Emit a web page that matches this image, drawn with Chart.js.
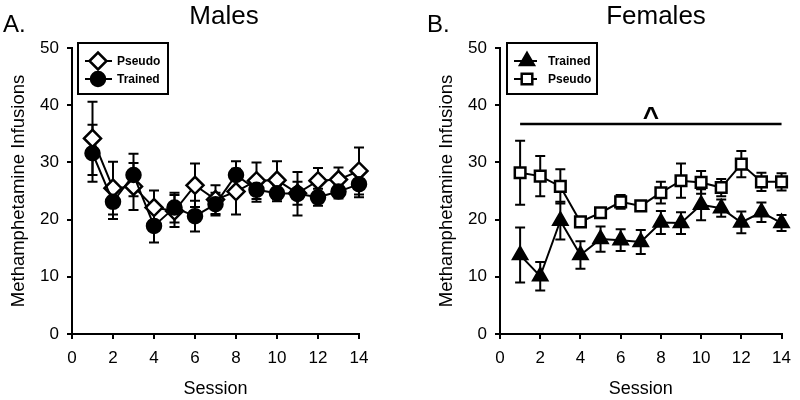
<!DOCTYPE html>
<html>
<head>
<meta charset="utf-8">
<script src="https://cdn.jsdelivr.net/npm/chart.js@4.4.1/dist/chart.umd.min.js"></script>
<style>
  html, body { margin: 0; padding: 0; background: #fff; }
  #wrap { position: relative; width: 800px; height: 400px; }
  .panel { position: absolute; top: 0; width: 400px; height: 400px; }
</style>
</head>
<body>
<div id="wrap">
  <div class="panel" style="left:0"><canvas id="malesChart"></canvas></div>
  <div class="panel" style="left:400px"><canvas id="femalesChart"></canvas></div>
</div>
<script>
// session numbers on the x axis
const sessions = [1, 2, 3, 4, 5, 6, 7, 8, 9, 10, 11, 12, 13, 14];
const xTicks = [0, 2, 4, 6, 8, 10, 12, 14];
const yTicks = [0, 10, 20, 30, 40, 50];

// males (panel A), mean +/- SEM
const maleTrained = [31.6, 23.1, 27.8, 18.9, 22.1, 20.6, 22.7, 27.8, 25.2, 24.6, 24.5, 23.9, 24.9, 26.2];
const maleTrainedSem = [5.0, 3.0, 3.7, 2.9, 2.6, 2.7, 2.0, 2.4, 2.1, 1.4, 3.8, 1.5, 1.2, 2.3];
const malePseudo = [34.2, 25.5, 25.8, 22.1, 21.5, 26.0, 23.5, 24.9, 26.8, 26.9, 24.6, 26.8, 27.0, 28.5];
const malePseudoSem = [6.4, 4.6, 4.1, 3.0, 2.8, 3.8, 2.5, 4.0, 3.2, 3.3, 2.0, 2.2, 2.1, 4.1];

// females (panel B), mean +/- SEM
const femaleTrained = [13.8, 10.1, 19.8, 13.8, 16.6, 16.4, 16.1, 19.5, 19.4, 22.6, 22.0, 19.5, 21.3, 19.4];
const femaleTrainedSem = [4.8, 2.5, 3.3, 2.4, 2.2, 1.9, 2.1, 2.0, 1.9, 2.7, 1.5, 1.9, 1.7, 1.4];
const femalePseudo = [28.2, 27.6, 25.8, 19.6, 21.2, 23.1, 22.4, 24.7, 26.8, 26.5, 25.6, 29.7, 26.6, 26.6];
const femalePseudoSem = [5.6, 3.5, 3.0, 0.8, 0.5, 1.2, 0.5, 1.9, 3.0, 2.0, 1.5, 2.3, 1.6, 1.5];

// significance bar over panel B
const sigRange = [1, 14];
const sigLevel = 36.7;

const FONT = 'Arial, "Liberation Sans", sans-serif';
Chart.defaults.font.family = FONT;
Chart.defaults.color = "#000";

function toPoints(ys) {
  return sessions.map((x, i) => ({ x: x, y: ys[i] }));
}

const errorBars = {
  id: "errorBars",
  beforeDatasetsDraw(chart) {
    const ctx = chart.ctx;
    const xs = chart.scales.x;
    const ys = chart.scales.y;
    ctx.save();
    ctx.strokeStyle = "#000";
    ctx.lineWidth = 2;
    chart.data.datasets.forEach((ds) => {
      ds.data.forEach((p, i) => {
        const err = ds.sem[i];
        const px = xs.getPixelForValue(p.x);
        const top = ys.getPixelForValue(p.y + err);
        const bot = ys.getPixelForValue(p.y - err);
        ctx.beginPath();
        ctx.moveTo(px, top);
        ctx.lineTo(px, bot);
        ctx.moveTo(px - 5, top);
        ctx.lineTo(px + 5, top);
        ctx.moveTo(px - 5, bot);
        ctx.lineTo(px + 5, bot);
        ctx.stroke();
      });
    });
    ctx.restore();
  },
};

const panelText = {
  id: "panelText",
  afterDraw(chart, args, opts) {
    const ctx = chart.ctx;
    ctx.save();
    ctx.fillStyle = "#000";
    ctx.textBaseline = "alphabetic";
    ctx.font = "24px " + FONT;
    ctx.textAlign = "left";
    ctx.fillText(opts.letter, opts.letterX, 32);
    ctx.font = "26px " + FONT;
    ctx.textAlign = "center";
    ctx.fillText(opts.title, opts.titleX, 24);
    ctx.restore();
  },
};

const boxLegend = {
  id: "boxLegend",
  afterDraw(chart, args, opts) {
    const ctx = chart.ctx;
    const [x1, y1, x2, y2] = opts.box;
    ctx.save();
    ctx.strokeStyle = "#000";
    ctx.lineWidth = 2;
    ctx.strokeRect(x1, y1, x2 - x1, y2 - y1);
    opts.entries.forEach((entry, i) => {
      const ds = chart.data.datasets[entry];
      const y = opts.rowY[i];
      ctx.strokeStyle = "#000";
      ctx.lineWidth = 2;
      ctx.beginPath();
      ctx.moveTo(opts.lineX[0], y);
      ctx.lineTo(opts.lineX[1], y);
      ctx.stroke();
      ctx.fillStyle = ds.pointBackgroundColor;
      ctx.lineWidth = ds.pointBorderWidth;
      Chart.helpers.drawPoint(ctx, {
        pointStyle: ds.pointStyle,
        radius: ds.pointRadius,
        borderWidth: ds.pointBorderWidth,
        rotation: 0,
      }, opts.markerX, y);
      ctx.fillStyle = "#000";
      ctx.font = "bold 12px " + FONT;
      ctx.textAlign = "left";
      ctx.textBaseline = "middle";
      ctx.fillText(ds.label, opts.textX, y + 0.5);
    });
    ctx.restore();
  },
};

const sigBar = {
  id: "sigBar",
  afterDatasetsDraw(chart, args, opts) {
    if (!opts.show) return;
    const ctx = chart.ctx;
    const xs = chart.scales.x;
    const ys = chart.scales.y;
    const y = ys.getPixelForValue(sigLevel);
    ctx.save();
    ctx.strokeStyle = "#000";
    ctx.lineWidth = 2.5;
    ctx.beginPath();
    ctx.moveTo(xs.getPixelForValue(sigRange[0]), y);
    ctx.lineTo(xs.getPixelForValue(sigRange[1]), y);
    ctx.stroke();
    ctx.fillStyle = "#000";
    ctx.font = "bold 28px " + FONT;
    ctx.textAlign = "center";
    ctx.textBaseline = "alphabetic";
    ctx.fillText("^", xs.getPixelForValue((sigRange[0] + sigRange[1]) / 2), y + 2);
    ctx.restore();
  },
};

function makeDataset(label, values, sem, style, radius, fill) {
  return {
    label: label,
    data: toPoints(values),
    sem: sem,
    clip: false,
    borderColor: "#000",
    borderWidth: 2,
    pointStyle: style,
    pointRadius: radius,
    pointBorderWidth: 2.5,
    pointBorderColor: "#000",
    pointBackgroundColor: fill,
    tension: 0,
  };
}

function makeOptions(extra) {
  return {
    responsive: true,
    maintainAspectRatio: false,
    animation: false,
    events: [],
    layout: { padding: { left: extra.padLeft, right: extra.padRight, top: 48, bottom: 0 } },
    scales: {
      x: {
        type: "linear",
        min: 0,
        max: 14,
        afterBuildTicks: (s) => { s.ticks = xTicks.map((v) => ({ value: v })); },
        ticks: { color: "#000", font: { size: 17 }, padding: 9 },
        grid: { drawOnChartArea: false, color: "#000", lineWidth: 2, tickLength: 5 },
        border: { color: "#000", width: 2 },
        title: { display: true, text: "Session", color: "#000", font: { size: 18 }, padding: { top: 0, bottom: 0 } },
        afterFit: (s) => { s.height = 66; },
      },
      y: {
        min: 0,
        max: 50,
        afterBuildTicks: (s) => { s.ticks = yTicks.map((v) => ({ value: v })); },
        ticks: { color: "#000", font: { size: 17 }, padding: 8 },
        grid: { drawOnChartArea: false, color: "#000", lineWidth: 2, tickLength: 5 },
        border: { color: "#000", width: 2 },
        title: { display: true, text: "Methamphetamine Infusions", color: "#000", font: { size: 18.5 }, padding: { top: 8, bottom: 0 } },
        afterFit: (s) => { s.width = 72; },
      },
    },
    plugins: {
      legend: { display: false },
      tooltip: { enabled: false },
      panelText: extra.panelText,
      boxLegend: extra.boxLegend,
      sigBar: { show: extra.sig },
    },
  };
}

new Chart(document.getElementById("malesChart"), {
  type: "line",
  data: {
    datasets: [
      makeDataset("Trained", maleTrained, maleTrainedSem, "circle", 7, "#000"),
      makeDataset("Pseudo", malePseudo, malePseudoSem, "rectRot", 8.5, "#fff"),
    ],
  },
  options: makeOptions({
    padLeft: 0,
    padRight: 41,
    sig: false,
    panelText: { letter: "A.", letterX: 3, title: "Males", titleX: 224 },
    boxLegend: { box: [78, 43, 168, 94], entries: [1, 0], rowY: [61, 79], lineX: [85, 112], markerX: 98, textX: 117 },
  }),
  plugins: [errorBars, sigBar, panelText, boxLegend],
});

new Chart(document.getElementById("femalesChart"), {
  type: "line",
  data: {
    datasets: [
      makeDataset("Trained", femaleTrained, femaleTrainedSem, "triangle", 8, "#000"),
      makeDataset("Pseudo", femalePseudo, femalePseudoSem, "rect", 7.5, "#fff"),
    ],
  },
  options: makeOptions({
    padLeft: 28,
    padRight: 13,
    sig: true,
    panelText: { letter: "B.", letterX: 27, title: "Females", titleX: 256 },
    boxLegend: { box: [107, 43, 197, 94], entries: [0, 1], rowY: [61, 79], lineX: [114, 137], markerX: 127, textX: 148 },
  }),
  plugins: [errorBars, sigBar, panelText, boxLegend],
});
</script>
</body>
</html>
